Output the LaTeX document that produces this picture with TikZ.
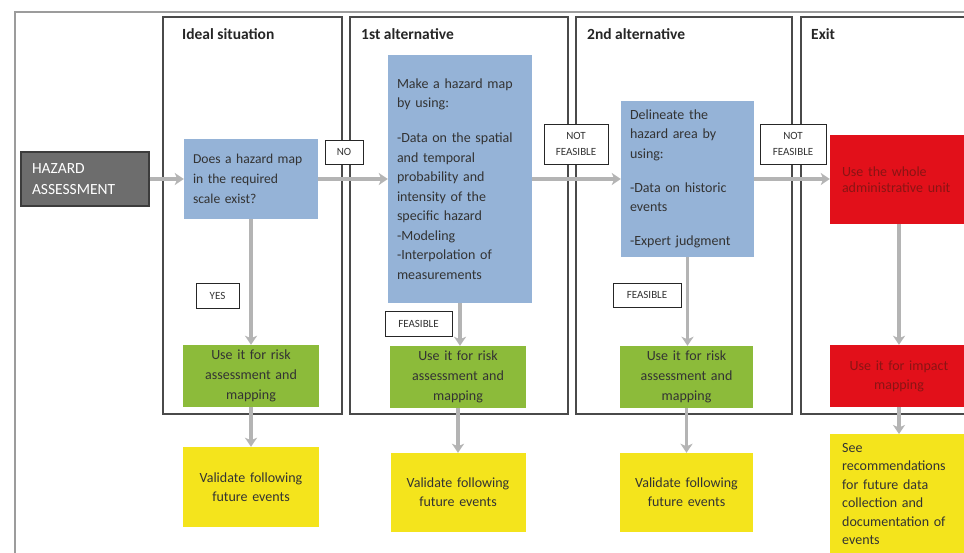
\documentclass[tikz,border=0pt]{standalone}
\usepackage{fontspec}
\setmainfont{Carlito}
\usetikzlibrary{arrows.meta}

\definecolor{framegray}{HTML}{9C9C9C}
\definecolor{panelgray}{HTML}{4A4A4A}
\definecolor{arrowgray}{HTML}{B4B4B4}
\definecolor{hazardfill}{HTML}{6D6D6D}
\definecolor{hazarddraw}{HTML}{3C3C3C}
\definecolor{stepblue}{HTML}{95B3D7}
\definecolor{stepgreen}{HTML}{8CBB3A}
\definecolor{stepyellow}{HTML}{F4E41C}
\definecolor{stepred}{HTML}{E2101A}
\definecolor{redtext}{HTML}{8A1414}
\definecolor{boxtext}{HTML}{333333}

\tikzset{
  panel/.style={draw=panelgray, line width=1.4pt},
  paneltitle/.style={anchor=west, inner sep=0pt, font=\fontsize{15.5}{18}\selectfont\bfseries, text=black!85},
  flowbox/.style={inner ysep=0pt, text=boxtext, font=\fontsize{14}{19.5}\selectfont},
  bluebox/.style={flowbox, fill=stepblue, align=left, inner xsep=9pt},
  greenbox/.style={flowbox, fill=stepgreen, align=center, inner xsep=4pt, font=\fontsize{14}{20}\selectfont},
  yellowbox/.style={flowbox, fill=stepyellow, align=center, inner xsep=4pt, font=\fontsize{14}{19}\selectfont},
  redbox/.style={flowbox, fill=stepred, text=redtext},
  tag/.style={draw=black!85, line width=0.9pt, fill=white, inner sep=2pt, align=center,
    text=boxtext, font=\fontsize{11}{16}\selectfont},
  conn/.style={draw=arrowgray, line width=3.5pt, -{Stealth[length=9pt,width=12pt,inset=2.5pt]}},
}

\begin{document}
\begin{tikzpicture}[x=1pt,y=-1pt]
\clip (0,0) rectangle (964,552);
\fill[white] (0,0) rectangle (964,552);

% outer frame
\draw[framegray, line width=2pt] (15,560) -- (15,12) -- (970,12);

% the four columns
\draw[panel] (163,17) rectangle (342,414);
\draw[panel] (350,17) rectangle (568,414);
\draw[panel] (576,17) rectangle (792,414);
\draw[panel] (970,17) -- (801,17) -- (801,414) -- (970,414);

\node[paneltitle] (t1) at (182,34) {Ideal situation};
\node[paneltitle] (t2) at (361,34) {1st alternative};
\node[paneltitle] (t3) at (587,34) {2nd alternative};
\node[paneltitle] (t4) at (811,34) {Exit};

% start
\node[flowbox, fill=hazardfill, draw=hazarddraw, line width=1.2pt, text=white,
  align=left, inner xsep=11pt, text width=106pt, minimum height=54pt,
  font=\fontsize{15.5}{20.5}\selectfont] (hazard) at (85,179) {HAZARD\\ASSESSMENT};

% ideal situation
\node[bluebox, text width=116pt, minimum height=80pt, font=\fontsize{13.6}{20}\selectfont] (q1) at (251,179)
  {Does a hazard map\\in the required\\scale exist?};
\node[greenbox, text width=128pt, minimum height=62pt] (g1) at (251,376)
  {Use it for risk\\assessment and\\mapping};
\node[yellowbox, text width=128pt, minimum height=80pt] (y1) at (251,487)
  {Validate following\\future events};

% first alternative
\node[bluebox, text width=126pt, minimum height=248pt] (q2) at (460,179)
  {Make a hazard map\\by using:\\[15.5pt]-Data on the spatial\\and temporal\\probability and\\intensity of the\\specific hazard\\-Modeling\\-Interpolation of\\measurements};
\node[greenbox, text width=128pt, minimum height=62pt] (g2) at (458,377)
  {Use it for risk\\assessment and\\mapping};
\node[yellowbox, text width=127pt, minimum height=79pt] (y2) at (458,492.5)
  {Validate following\\future events};

% second alternative
\node[bluebox, text width=115pt, minimum height=156pt] (q3) at (687.5,179)
  {Delineate the\\hazard area by\\using:\\[14.5pt]-Data on historic\\events\\[14.5pt]-Expert judgment};
\node[greenbox, text width=125pt, minimum height=62pt] (g3) at (686.5,377)
  {Use it for risk\\assessment and\\mapping};
\node[yellowbox, text width=125pt, minimum height=79pt] (y3) at (686.5,492.5)
  {Validate following\\future events};

% exit
\node[redbox, align=left, inner xsep=12pt, text width=114pt, minimum height=89pt,
  font=\fontsize{14}{16.5}\selectfont] (r1) at (899,179.5)
  {Use the whole\\administrative unit};
\node[redbox, align=center, inner xsep=4pt, text width=130pt, minimum height=62pt,
  font=\fontsize{14}{19}\selectfont] (r2) at (899,376)
  {Use it for impact\\mapping};
\node[flowbox, fill=stepyellow, anchor=north west, align=left, inner xsep=12pt,
  inner ysep=9pt, text width=116pt, font=\fontsize{14}{18.5}\selectfont] (y4) at (830,434)
  {See\\recommendations\\for future data\\collection and\\documentation of\\events};

% connectors
\draw[conn] (hazard.east) -- (hazard.east -| q1.west);
\draw[conn] (q1.east) -- (q1.east -| q2.west);
\draw[conn] (q2.east) -- (q2.east -| q3.west);
\draw[conn] (q3.east) -- (q3.east -| r1.west);
\draw[conn] (q1.south) -- (q1.south |- g1.north);
\draw[conn] (g1.south) -- (g1.south |- y1.north);
\draw[conn] (q2.south) -- (q2.south |- g2.north);
\draw[conn] (g2.south) -- (g2.south |- y2.north);
\draw[conn] (q3.south) -- (q3.south |- g3.north);
\draw[conn] (g3.south) -- (g3.south |- y3.north);
\draw[conn] (r1.south) -- (r1.south |- r2.north);
\draw[conn] (r2.south) -- (r2.south |- y4.north);

% decision tags
\node[tag, minimum width=38pt, minimum height=24pt] (no) at (344,152) {NO};
\node[tag, minimum width=43pt, minimum height=25pt] (yes) at (217.5,295.5) {YES};
\node[tag, minimum width=67pt, minimum height=25pt] (f1) at (418.5,323.5) {FEASIBLE};
\node[tag, minimum width=68pt, minimum height=24pt] (f2) at (647,295) {FEASIBLE};
\node[tag, minimum width=64pt, minimum height=40pt] (nf1) at (576,144) {NOT\\FEASIBLE};
\node[tag, minimum width=66pt, minimum height=40pt] (nf2) at (793,144) {NOT\\FEASIBLE};
\end{tikzpicture}
\end{document}
